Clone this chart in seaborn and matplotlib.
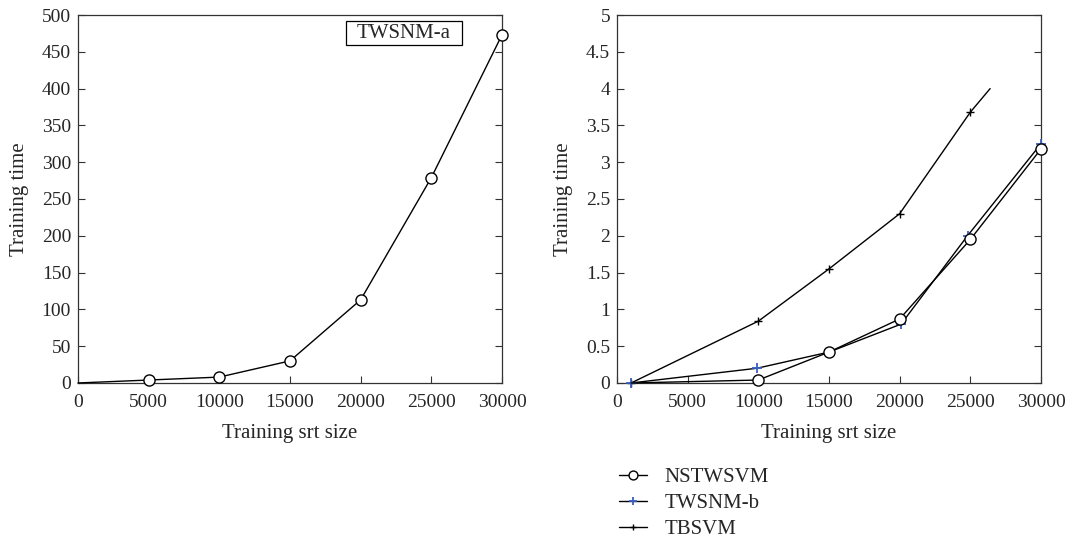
import matplotlib
matplotlib.use("Agg")
import matplotlib.pyplot as plt
from matplotlib.patches import Rectangle
import seaborn as sns

sns.set_style("ticks")
plt.rcParams['font.family'] = ['Liberation Serif', 'DejaVu Serif']

# Left panel: TWSNM-a
a_size = [0, 5000, 10000, 15000, 20000, 25000, 30000]
a_time = [0, 4, 8, 30, 113, 279, 473]

# Right panel
ns_size = [1000, 10000, 15000, 20000, 25000, 30000]
ns_time = [0, 0.04, 0.42, 0.87, 1.95, 3.18]

b_size = [1000, 9900, 15000, 20100, 24800, 30000]
b_time = [0, 0.2, 0.42, 0.8, 2.0, 3.25]

tb_size = [1000, 10000, 15000, 20000, 25000, 26400]
tb_time = [0, 0.84, 1.55, 2.3, 3.68, 4.0]

fig = plt.figure(figsize=(10.92, 5.42), dpi=100)
ax1 = fig.add_axes([0.0714, 0.2934, 0.3883, 0.6789])
ax2 = fig.add_axes([0.565, 0.2934, 0.3883, 0.6789])

sns.lineplot(x=a_size, y=a_time, ax=ax1, color='black', lw=1.0, marker='o',
             markersize=8, markerfacecolor='white', markeredgecolor='black',
             markeredgewidth=1.0, markevery=list(range(1, 7)), clip_on=False, zorder=4)
ax1.add_patch(Rectangle((0.632, 0.918), 0.274, 0.066, transform=ax1.transAxes,
                        fc='white', ec='black', lw=0.9, zorder=5))
ax1.text(0.769, 0.951, "TWSNM-a", transform=ax1.transAxes, ha='center', va='center',
         fontsize=15, zorder=6)

sns.lineplot(x=tb_size, y=tb_time, ax=ax2, color='black', lw=1.0, marker='+',
             markersize=6, markeredgecolor='black', markeredgewidth=1.0,
             markevery=list(range(0, 5)), label='TBSVM', clip_on=False, zorder=4)
sns.lineplot(x=b_size, y=b_time, ax=ax2, color='black', lw=1.0, marker='+',
             markersize=7, markeredgecolor='#3a5fc0', markeredgewidth=1.3,
             label='TWSNM-b', clip_on=False, zorder=4)
sns.lineplot(x=ns_size, y=ns_time, ax=ax2, color='black', lw=1.0, marker='o',
             markersize=8, markerfacecolor='white', markeredgecolor='black',
             markeredgewidth=1.0, markevery=list(range(1, 6)), label='NSTWSVM',
             clip_on=False, zorder=4)

ax1.set_xlim(0, 30000)
ax1.set_ylim(0, 500)
ax1.set_yticks(range(0, 501, 50))
ax2.set_xlim(0, 30000)
ax2.set_ylim(0, 5)
ax2.set_yticks([0, 0.5, 1, 1.5, 2, 2.5, 3, 3.5, 4, 4.5, 5])
ax2.set_yticklabels(['0', '0.5', '1', '1.5', '2', '2.5', '3', '3.5', '4', '4.5', '5'])

for ax in (ax1, ax2):
    ax.set_xticks(range(0, 30001, 5000))
    ax.set_xlabel("Training srt size", fontsize=15, labelpad=9)
    ax.set_ylabel("Training time", fontsize=15, labelpad=9)
    ax.tick_params(direction='in', which='both', right=True, top=False,
                   labelsize=14, length=5, width=0.8, color='#333333')
    ax.tick_params(axis='x', pad=8)
    ax.tick_params(axis='y', pad=5)
    for s in ax.spines.values():
        s.set_visible(True)
        s.set_linewidth(0.9)
        s.set_color('#333333')

h, l = ax2.get_legend_handles_labels()
order = [l.index('NSTWSVM'), l.index('TWSNM-b'), l.index('TBSVM')]
ax2.get_legend().remove()
fig.legend([h[i] for i in order], [l[i] for i in order], loc='upper left',
           bbox_to_anchor=(0.563, 0.145), frameon=False, fontsize=15,
           handlelength=1.35, labelspacing=0.3, handletextpad=0.85,
           markerscale=0.8, borderaxespad=0, borderpad=0.2)

fig.savefig("out.png", dpi=100)
